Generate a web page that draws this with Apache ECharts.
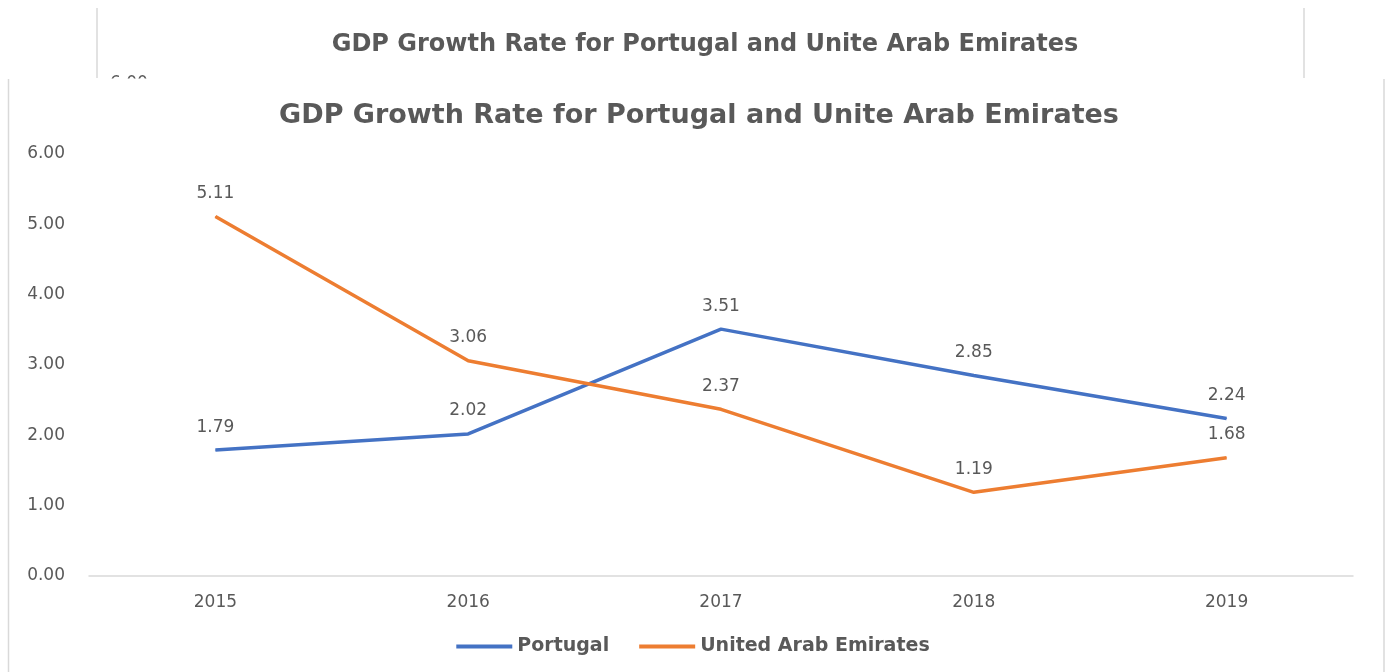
<!DOCTYPE html>
<html>
<head>
<meta charset="utf-8">
<script src="https://cdn.jsdelivr.net/npm/echarts@6/dist/echarts.min.js"></script>
<style>
  html, body { margin: 0; padding: 0; background: #ffffff; }
  #chart { width: 1386px; height: 672px; }
</style>
</head>
<body>
<div id="chart"></div>
<script>
// Annual GDP growth rate (%)
const years = ['2015', '2016', '2017', '2018', '2019'];
const portugal = [1.79, 2.02, 3.51, 2.85, 2.24];
const uae = [5.11, 3.06, 2.37, 1.19, 1.68];
const seriesNames = ['Portugal', 'United Arab Emirates'];
const chartTitle = 'GDP Growth Rate for Portugal and Unite Arab Emirates';

const FONT = '"DejaVu Sans", "Open Sans", sans-serif';
const TEXT = '#595959';
const BORDER = '#d9d9d9';

const chart = echarts.init(document.getElementById('chart'));

function lineSeries(name, values, color) {
  return {
    name: name,
    type: 'line',
    data: values,
    color: color,
    symbol: 'circle',
    symbolSize: 1,
    showSymbol: true,
    itemStyle: { color: color },
    lineStyle: { width: 3.5, color: color },
    label: {
      show: true, position: 'top', distance: 14,
      fontFamily: FONT, fontSize: 17, color: TEXT,
      formatter: p => p.value.toFixed(2)
    },
    labelLayout: { hideOverlap: false }
  };
}

chart.setOption({
  backgroundColor: '#ffffff',
  animation: false,
  title: [
    {
      text: chartTitle,
      left: 694,
      textAlign: 'center',
      top: 97,
      textStyle: { fontFamily: FONT, fontSize: 27, fontWeight: 'bold', color: TEXT }
    },
    {
      text: chartTitle,
      left: 700,
      textAlign: 'center',
      top: 28,
      textStyle: { fontFamily: FONT, fontSize: 24, fontWeight: 'bold', color: TEXT }
    }
  ],
  legend: {
    data: seriesNames,
    top: 632,
    left: 'center',
    icon: 'rect',
    itemWidth: 56,
    itemHeight: 4,
    itemGap: 30,
    textStyle: { fontFamily: FONT, fontSize: 19, fontWeight: 'bold', color: TEXT }
  },
  grid: { left: 89, right: 33, top: 154, bottom: 96 },
  xAxis: {
    type: 'category',
    data: years,
    boundaryGap: true,
    axisLine: { lineStyle: { color: BORDER, width: 1.5 } },
    axisTick: { show: false },
    axisLabel: { fontFamily: FONT, fontSize: 17, color: TEXT, margin: 18 }
  },
  yAxis: {
    type: 'value',
    min: 0,
    max: 6,
    interval: 1,
    splitLine: { show: false },
    axisLine: { show: false },
    axisTick: { show: false },
    axisLabel: {
      fontFamily: FONT, fontSize: 17, color: TEXT, margin: 24, align: 'right',
      formatter: v => v.toFixed(2)
    }
  },
  series: [
    lineSeries(seriesNames[0], portugal, '#4472c4'),
    lineSeries(seriesNames[1], uae, '#ed7d31')
  ],
  graphic: [
    // upper strip frame lines
    { type: 'line', shape: { x1: 97, y1: 8, x2: 97, y2: 78 }, style: { stroke: BORDER, lineWidth: 1.5 } },
    { type: 'line', shape: { x1: 1304, y1: 8, x2: 1304, y2: 78 }, style: { stroke: BORDER, lineWidth: 1.5 } },
    // top of an axis label peeking out of the upper strip
    { type: 'text', left: 110, top: 75, z: 1,
      style: { text: '6.00', font: '17px "DejaVu Sans", sans-serif', fill: TEXT } },
    { type: 'rect', shape: { x: 100, y: 78.5, width: 70, height: 20 }, style: { fill: '#ffffff' }, z: 2 },
    // lower chart frame
    { type: 'line', shape: { x1: 8.5, y1: 79, x2: 8.5, y2: 672 }, style: { stroke: BORDER, lineWidth: 1.5 }, z: 3 },
    { type: 'line', shape: { x1: 1384, y1: 79, x2: 1384, y2: 672 }, style: { stroke: BORDER, lineWidth: 1.5 }, z: 3 }
  ]
});
</script>
</body>
</html>
